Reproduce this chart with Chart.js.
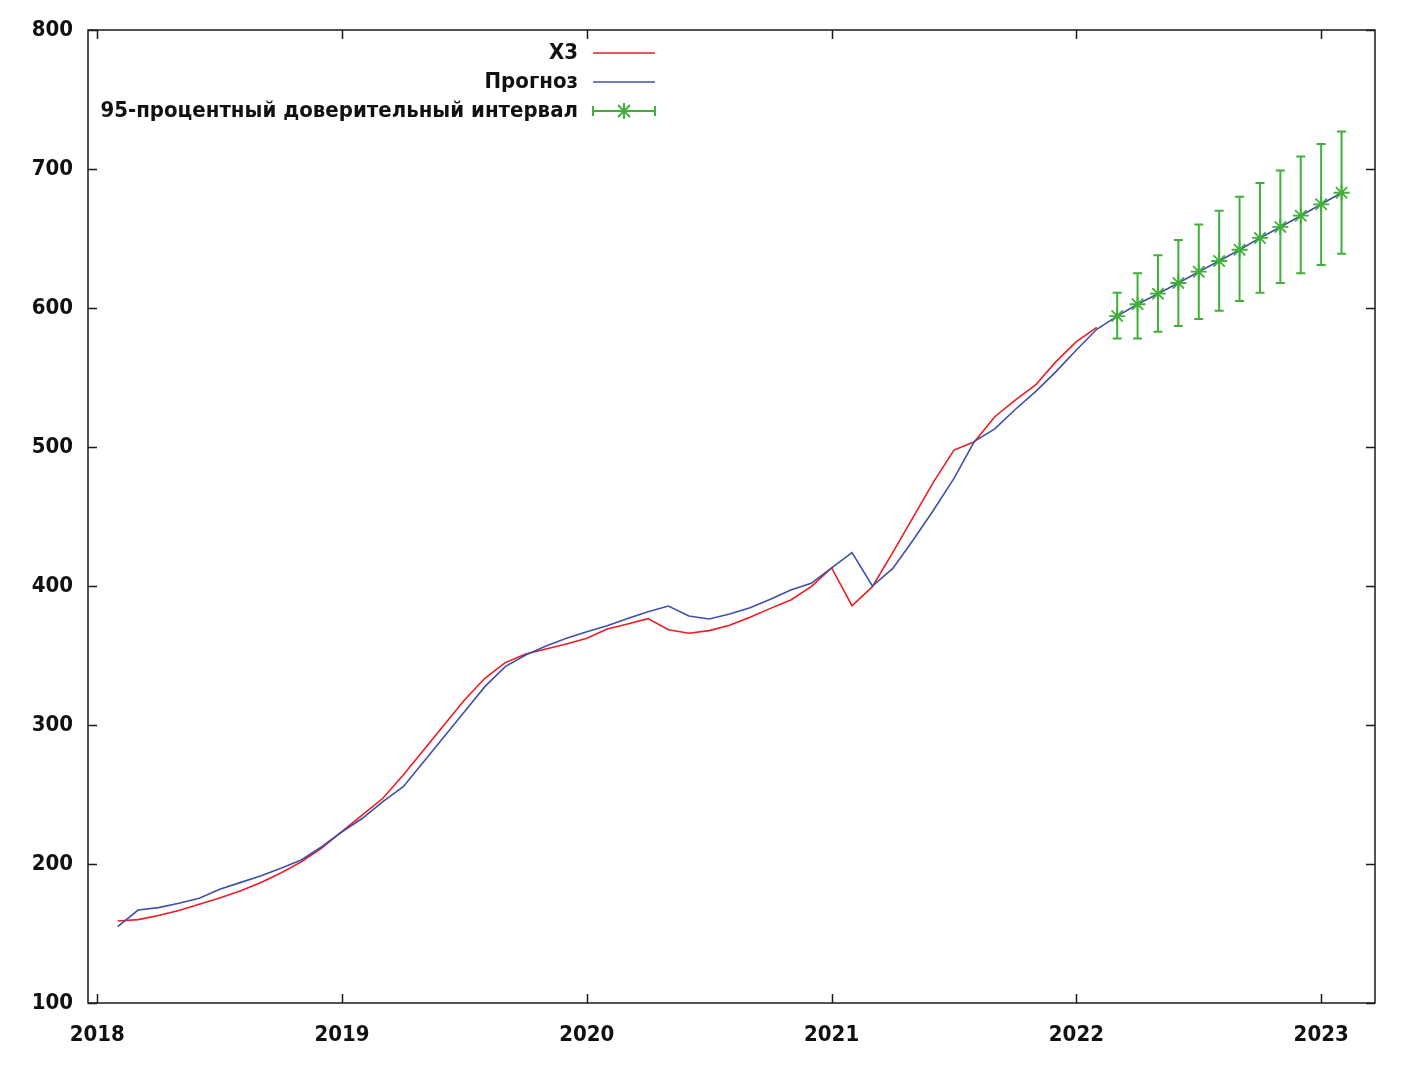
<!DOCTYPE html>
<html>
<head>
<meta charset="utf-8">
<script src="https://cdn.jsdelivr.net/npm/chart.js@4.4.1/dist/chart.umd.min.js"></script>
<style>
  html, body { margin: 0; padding: 0; background: #fff; }
  #wrap { width: 1417px; height: 1077px; position: relative; }
</style>
</head>
<body>
<div id="wrap"><canvas id="myChart" width="1417" height="1077"></canvas></div>
<script>
// monthly periods, 2018:02 .. 2023:02
const periods = [
  '2018:02','2018:03','2018:04','2018:05','2018:06','2018:07','2018:08','2018:09','2018:10','2018:11','2018:12',
  '2019:01','2019:02','2019:03','2019:04','2019:05','2019:06','2019:07','2019:08','2019:09','2019:10','2019:11','2019:12',
  '2020:01','2020:02','2020:03','2020:04','2020:05','2020:06','2020:07','2020:08','2020:09','2020:10','2020:11','2020:12',
  '2021:01','2021:02','2021:03','2021:04','2021:05','2021:06','2021:07','2021:08','2021:09','2021:10','2021:11','2021:12',
  '2022:01','2022:02','2022:03','2022:04','2022:05','2022:06','2022:07','2022:08','2022:09','2022:10','2022:11','2022:12',
  '2023:01','2023:02'
];

// X3 (actual), 2018:02 .. 2022:02
const actual = [
  159, 160, 163, 166.5, 171, 175.5, 180.5, 186.5, 193.5, 201.5, 211.5,
  223.5, 235.3, 247.3, 264, 282, 300, 318, 333.6, 344.9, 351.1, 354.7, 358.3,
  362.4, 369.1, 372.7, 376.5, 368.5, 366, 367.9, 371.7, 377.5, 383.9, 389.9, 399.5,
  413, 385.8, 399.5, 424.2, 449.5, 474.9, 497.8, 503.8, 521.8, 533.8, 544.6, 561.4,
  575.8, 586.1
];

// Прогноз (fitted + forecast), 2018:02 .. 2023:02
const forecast = [
  154.9, 166.9, 168.6, 171.7, 175.3, 181.8, 186.6, 191.4, 196.9, 202.9, 212.4,
  223.2, 232.9, 244.8, 255.6, 273.6, 291.6, 309.6, 327.6, 342, 350.4, 356.8, 362.4,
  367.1, 371.4, 376.7, 381.5, 385.6, 378.4, 376.3, 379.9, 384.4, 390.4, 397.1, 401.9,
  413, 424, 400, 412.7, 433.1, 454.7, 477.4, 504, 513, 527, 539.8, 554.2,
  569.8, 584.7,
  594.2, 602.7, 610.3, 618, 626.1, 633.8, 641.9, 650.4, 658.3, 666.4, 674.6, 682.9
];

// 95% interval, 2022:03 .. 2023:02
const ciLow  = [578, 578, 583, 587, 592, 598, 605, 611, 618, 625, 631, 639];
const ciHigh = [611, 625, 638, 649, 660, 670, 680, 690, 699, 709, 718, 727];

const yTicks = [100, 200, 300, 400, 500, 600, 700, 800];
const xTicks = [2018, 2019, 2020, 2021, 2022, 2023];

const seriesNames = ['X3', 'Прогноз', '95-процентный доверительный интервал'];
const RED = 'rgb(236, 28, 36)';
const BLUE = 'rgb(64, 80, 168)';
const GREEN = 'rgb(64, 176, 56)';
const FONT = '"DejaVu Sans Condensed", "DejaVu Sans", Verdana, sans-serif';
const FSIZE = 22;

function toTime(p) {
  const [y, m] = p.split(':').map(Number);
  return y + (m - 1) / 12;
}

const nFc = ciLow.length;
const fcStart = periods.length - nFc;

const actualPts = actual.map((v, i) => ({ x: toTime(periods[i]), y: v }));
const forecastPts = forecast.map((v, i) => ({ x: toTime(periods[i]), y: v }));
const ciPts = ciLow.map((lo, i) => ({
  x: toTime(periods[fcStart + i]),
  y: forecast[fcStart + i],
  lo: lo,
  hi: ciHigh[i]
}));

const gnuFrame = {
  id: 'gnuFrame',
  afterDatasetsDraw(chart) {
    const ctx = chart.ctx;
    const xs = chart.scales.x, ys = chart.scales.y;
    // error bars
    ctx.save();
    ctx.strokeStyle = GREEN;
    ctx.lineWidth = 2;
    ciPts.forEach(p => {
      const px = xs.getPixelForValue(p.x);
      const top = ys.getPixelForValue(p.hi);
      const bot = ys.getPixelForValue(p.lo);
      ctx.beginPath();
      ctx.moveTo(px, top); ctx.lineTo(px, bot);
      ctx.moveTo(px - 4.5, top); ctx.lineTo(px + 4.5, top);
      ctx.moveTo(px - 4.5, bot); ctx.lineTo(px + 4.5, bot);
      ctx.stroke();
    });
    ctx.restore();
  },
  afterDraw(chart) {
    const ctx = chart.ctx;
    const a = chart.chartArea;
    const xs = chart.scales.x, ys = chart.scales.y;
    ctx.save();
    ctx.strokeStyle = '#1a1a1a';
    ctx.lineWidth = 1.5;
    ctx.strokeRect(a.left, a.top, a.right - a.left, a.bottom - a.top);
    const tl = 9;
    ctx.beginPath();
    yTicks.forEach(v => {
      const py = Math.round(ys.getPixelForValue(v)) + 0.5;
      ctx.moveTo(a.left, py); ctx.lineTo(a.left + tl, py);
      ctx.moveTo(a.right, py); ctx.lineTo(a.right - tl, py);
    });
    xTicks.forEach(v => {
      const px = Math.round(xs.getPixelForValue(v)) + 0.5;
      ctx.moveTo(px, a.bottom); ctx.lineTo(px, a.bottom - tl);
      ctx.moveTo(px, a.top); ctx.lineTo(px, a.top + tl);
    });
    ctx.stroke();

    // legend (gnuplot style: text right-aligned, sample to the right)
    const textRight = 578, s0 = 593, s1 = 655;
    const rows = [53, 82, 111];
    ctx.font = 'bold ' + FSIZE + 'px ' + FONT;
    ctx.fillStyle = '#111';
    ctx.textAlign = 'right';
    ctx.textBaseline = 'middle';
    seriesNames.forEach((name, i) => ctx.fillText(name, textRight, rows[i]));
    ctx.lineWidth = 1.5;
    ctx.strokeStyle = RED;
    ctx.beginPath(); ctx.moveTo(s0, rows[0]); ctx.lineTo(s1, rows[0]); ctx.stroke();
    ctx.strokeStyle = BLUE;
    ctx.beginPath(); ctx.moveTo(s0, rows[1]); ctx.lineTo(s1, rows[1]); ctx.stroke();
    ctx.strokeStyle = GREEN;
    ctx.lineWidth = 2;
    const r = rows[2], mid = (s0 + s1) / 2;
    ctx.beginPath();
    ctx.moveTo(s0, r); ctx.lineTo(s1, r);
    ctx.moveTo(s0, r - 5); ctx.lineTo(s0, r + 5);
    ctx.moveTo(s1, r - 5); ctx.lineTo(s1, r + 5);
    ctx.moveTo(mid - 6, r - 6); ctx.lineTo(mid + 6, r + 6);
    ctx.moveTo(mid - 6, r + 6); ctx.lineTo(mid + 6, r - 6);
    ctx.moveTo(mid, r - 8); ctx.lineTo(mid, r + 8);
    ctx.stroke();
    ctx.restore();
  }
};

const data = {
  datasets: [
    {
      label: seriesNames[0],
      data: actualPts,
      borderColor: RED,
      borderWidth: 1.6,
      pointRadius: 0,
      fill: false,
      order: 3
    },
    {
      label: seriesNames[1],
      data: forecastPts,
      borderColor: BLUE,
      borderWidth: 1.6,
      pointRadius: 0,
      fill: false,
      order: 2
    },
    {
      label: seriesNames[2],
      data: ciPts,
      showLine: false,
      pointStyle: 'star',
      pointRadius: 8,
      borderColor: GREEN,
      backgroundColor: GREEN,
      pointBorderWidth: 1.8,
      order: 1
    }
  ]
};

const config = {
  type: 'line',
  data,
  options: {
    responsive: false,
    animation: false,
    layout: { padding: { left: 0, top: 30, right: 42, bottom: 0 } },
    plugins: {
      legend: { display: false },
      tooltip: { enabled: false }
    },
    scales: {
      x: {
        type: 'linear',
        min: 2017.962,
        max: 2023.22,
        grid: { display: false, drawTicks: false },
        border: { display: false },
        afterFit(scale) { scale.height = 74; },
        afterBuildTicks(scale) { scale.ticks = xTicks.map(v => ({ value: v })); },
        ticks: {
          color: '#111',
          padding: 19,
          maxRotation: 0,
          font: { family: FONT, size: FSIZE, weight: 'bold' },
          callback: v => String(v)
        }
      },
      y: {
        type: 'linear',
        min: 100,
        max: 800,
        grid: { display: false, drawTicks: false },
        border: { display: false },
        afterFit(scale) { scale.width = 88; },
        afterBuildTicks(scale) { scale.ticks = yTicks.map(v => ({ value: v })); },
        ticks: {
          color: '#111',
          padding: 15,
          font: { family: FONT, size: FSIZE, weight: 'bold' },
          callback: v => String(v)
        }
      }
    }
  },
  plugins: [gnuFrame]
};

const myChart = new Chart(
  document.getElementById('myChart'),
  config
);
</script>
</body>
</html>
